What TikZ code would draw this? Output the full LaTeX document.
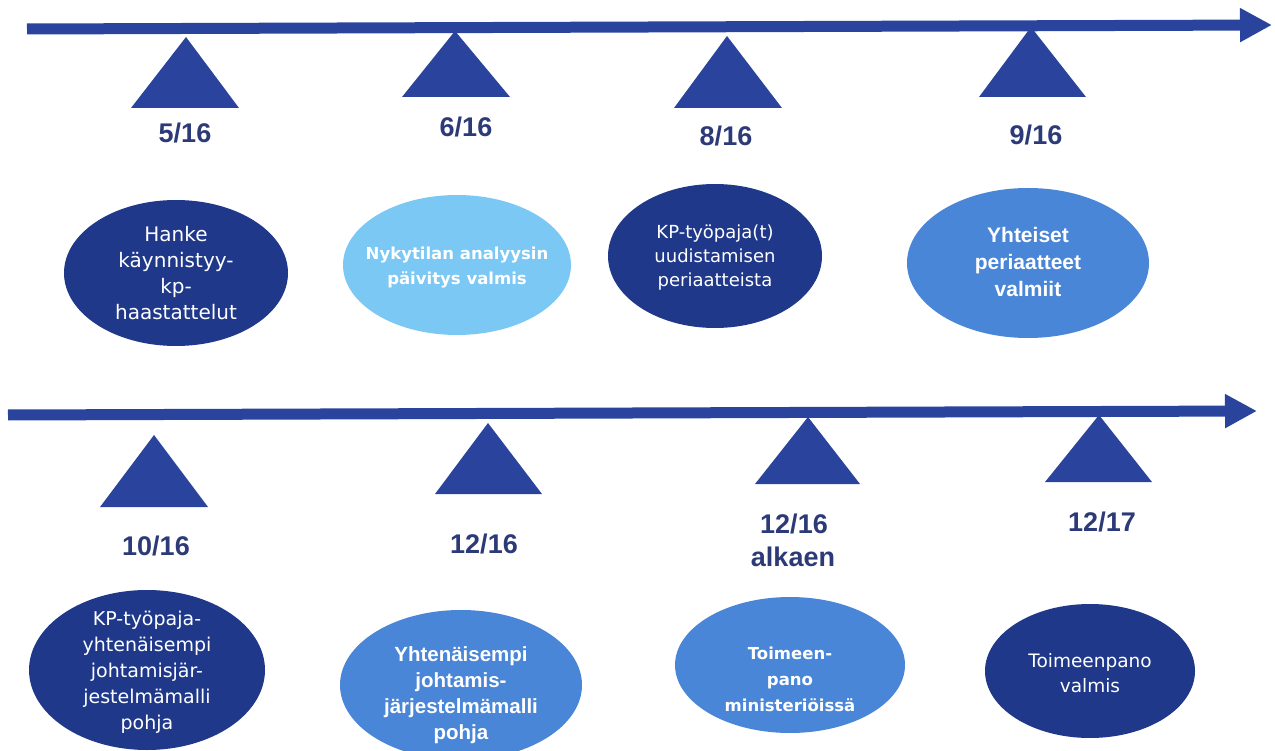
\documentclass[tikz,border=0pt]{standalone}
\usepackage{fontspec}
\setmainfont{Liberation Sans}
\newfontfamily\dvs{DejaVu Sans}
\usetikzlibrary{arrows.meta}
\definecolor{linec}{RGB}{42,68,158}
\definecolor{navyc}{RGB}{31,56,138}
\definecolor{midc}{RGB}{74,134,216}
\definecolor{lightc}{RGB}{124,200,244}
\definecolor{datec}{RGB}{44,58,120}
\tikzset{
  x=1pt, y=-1pt,
  timeline/.style={draw=linec, line width=11pt, -{Triangle[length=32pt,width=32pt]}},
  marker/.style={fill=linec, draw=none},
  datelbl/.style={text=datec, font=\fontsize{27}{30}\selectfont\bfseries, inner sep=0pt},
  blob/.style={ellipse, draw=none, text=white, align=center, inner sep=0pt},
}
\usetikzlibrary{shapes.geometric}
\begin{document}
\begin{tikzpicture}
\useasboundingbox (0,0) rectangle (1275,751);
\clip (0,0) rectangle (1275,751);
% timelines
\coordinate (a1s) at (27,29);
\coordinate (a1e) at (1272,25);
\coordinate (a2s) at (8,415);
\coordinate (a2e) at (1257,411);
\draw[timeline] (a1s) -- (a1e);
\draw[timeline] (a2s) -- (a2e);
% triangles top
\fill[marker] (186,37) -- (239,108) -- (131,108) -- cycle;
\fill[marker] (455,31) -- (510,97) -- (402,97) -- cycle;
\fill[marker] (727,36) -- (782,108) -- (674,108) -- cycle;
\fill[marker] (1031,27) -- (1086,97) -- (979,97) -- cycle;
% triangles bottom
\fill[marker] (154,435) -- (208,507) -- (100,507) -- cycle;
\fill[marker] (488,423) -- (542,494) -- (435,494) -- cycle;
\fill[marker] (808,417) -- (860,484) -- (755,484) -- cycle;
\fill[marker] (1099,415) -- (1152,482) -- (1045,482) -- cycle;
% date labels
\node[datelbl] (d1) at (185,133) {5/16};
\node[datelbl] (d2) at (466,127) {6/16};
\node[datelbl] (d3) at (726,136) {8/16};
\node[datelbl] (d4) at (1036,135) {9/16};
\node[datelbl] (d5) at (156,546) {10/16};
\node[datelbl] (d6) at (484,544) {12/16};
\node[datelbl] (d7) at (794,524) {12/16};
\node[datelbl] (d7b) at (793,557) {alkaen};
\node[datelbl] (d8) at (1102,522) {12/17};
% ellipses top
\fill[navyc] (176,273) ellipse [x radius=112, y radius=73];
\node[blob, font=\dvs\fontsize{20}{26}\selectfont] (e1) at (176,273) {Hanke\\käynnistyy-\\kp-\\haastattelut};
\fill[lightc] (457,265) ellipse [x radius=114, y radius=70];
\node[blob, font=\dvs\bfseries\fontsize{16.5}{25}\selectfont] (e2) at (457,268) {Nykytilan analyysin\\päivitys valmis};
\fill[navyc] (715,256) ellipse [x radius=107, y radius=72];
\node[blob, font=\dvs\fontsize{18}{24}\selectfont] (e3) at (715,258) {KP-työpaja(t)\\uudistamisen\\periaatteista};
\fill[midc] (1028,263) ellipse [x radius=121, y radius=75];
\node[blob, font=\bfseries\fontsize{21}{27}\selectfont] (e4) at (1028,262) {Yhteiset\\periaatteet\\valmiit};
% ellipses bottom
\fill[navyc] (147,670) ellipse [x radius=118, y radius=80];
\node[blob, font=\dvs\fontsize{19}{26}\selectfont] (f1) at (147,672) {KP-työpaja-\\yhtenäisempi\\johtamisjär-\\jestelmämalli\\pohja};
\fill[midc] (461,685) ellipse [x radius=121, y radius=75];
\node[blob, font=\bfseries\fontsize{20.5}{26}\selectfont] (f2) at (461,695) {Yhtenäisempi\\johtamis-\\järjestelmämalli\\pohja};
\fill[midc] (790,665) ellipse [x radius=115, y radius=68];
\node[blob, font=\dvs\bfseries\fontsize{16.5}{26}\selectfont] (f3) at (790,679) {Toimeen-\\pano\\ministeriöissä};
\fill[navyc] (1090,671) ellipse [x radius=105, y radius=67];
\node[blob, font=\dvs\fontsize{18.5}{25}\selectfont] (f4) at (1090,673) {Toimeenpano\\valmis};
\end{tikzpicture}
\end{document}
